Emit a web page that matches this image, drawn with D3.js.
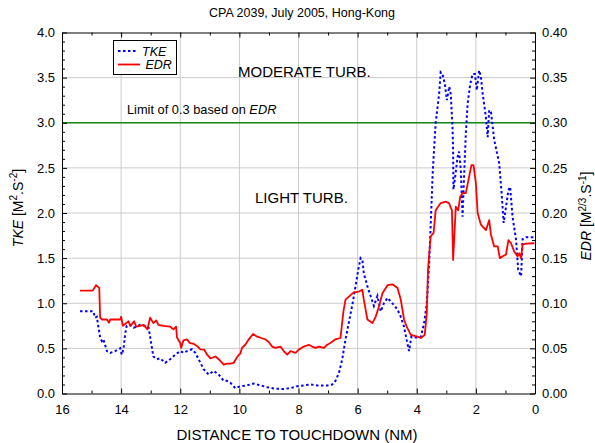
<!DOCTYPE html>
<html><head><meta charset="utf-8">
<script src="https://cdn.jsdelivr.net/npm/d3@7"></script>
<style>body{margin:0;background:#fff}svg{font-family:"Liberation Sans",Arial,sans-serif}</style>
</head><body>
<svg id="c" width="595" height="443"></svg>
<script>
const title = "CPA 2039, July 2005, Hong-Kong";
const xTicks = [16,14,12,10,8,6,4,2,0];
const yTicks = [0,0.5,1,1.5,2,2.5,3,3.5,4];
const y2Ticks = [0,0.05,0.1,0.15,0.2,0.25,0.3,0.35,0.4];
const limitEDR = 0.3;

const tkeDist = [15.39,14.94,14.88,14.82,14.77,14.71,14.65,14.60,14.48,14.37,
14.20,14.03,13.98,13.92,13.86,13.81,13.69,13.58,13.47,13.36,
13.19,13.07,13.02,12.91,12.79,12.68,12.51,12.34,12.17,12.00,
11.89,11.77,11.60,11.49,11.38,11.21,11.04,10.87,10.70,10.53,
10.42,10.31,10.14,9.97,9.74,9.52,9.29,9.06,8.84,8.50,
8.27,8.04,7.82,7.59,7.37,7.03,6.86,6.75,6.63,6.52,
6.41,6.29,6.18,6.07,5.98,5.90,5.84,5.79,5.67,5.56,
5.45,5.33,5.22,5.11,4.99,4.88,4.77,4.65,4.54,4.43,
4.32,4.26,4.18,4.03,3.86,3.75,3.66,3.58,3.53,3.46,
3.36,3.24,3.19,3.13,3.05,2.98,2.90,2.85,2.79,2.77,
2.76,2.70,2.62,2.57,2.51,2.45,2.40,2.34,2.28,2.19,
2.11,2.03,1.97,1.89,1.83,1.77,1.66,1.60,1.55,1.49,
1.38,1.21,1.13,1.06,0.98,0.90,0.84,0.76,0.64,0.57,
0.47,0.42,0.31,0.02];
const tkeVals = [0.91,0.91,0.84,0.85,0.74,0.62,0.58,0.60,0.47,0.45,
0.47,0.50,0.43,0.49,0.67,0.75,0.76,0.73,0.74,0.76,
0.75,0.73,0.63,0.41,0.38,0.39,0.34,0.38,0.43,0.47,
0.45,0.47,0.49,0.45,0.38,0.27,0.21,0.25,0.21,0.14,
0.14,0.12,0.06,0.08,0.09,0.11,0.09,0.07,0.055,0.05,
0.06,0.08,0.09,0.10,0.09,0.09,0.10,0.14,0.23,0.38,
0.60,0.80,0.98,1.19,1.37,1.50,1.48,1.33,1.19,1.08,
0.97,1.08,0.91,1.00,1.06,1.02,0.98,0.93,0.85,0.74,
0.56,0.47,0.63,0.62,0.63,0.78,1.00,1.44,1.85,2.45,
3.00,3.33,3.56,3.54,3.43,3.25,3.40,3.32,2.95,2.70,
2.26,2.40,2.62,2.68,2.48,1.96,2.40,2.88,3.21,3.43,
3.54,3.54,3.36,3.58,3.51,3.32,3.06,2.84,3.14,3.12,
2.81,2.55,2.22,1.89,2.07,2.25,2.29,1.96,1.70,1.37,
1.30,1.71,1.73,1.73];

const edrDist = [15.39,14.96,14.85,14.74,14.71,14.65,14.48,14.41,14.37,14.03,
14.00,13.94,13.81,13.75,13.69,13.56,13.49,13.36,13.24,13.11,
13.02,12.91,12.81,12.74,12.57,12.34,12.23,12.14,12.11,12.00,
11.97,11.89,11.77,11.68,11.55,11.41,11.32,11.19,11.09,10.98,
10.81,10.70,10.53,10.42,10.31,10.19,10.10,10.02,9.97,9.91,
9.80,9.68,9.54,9.40,9.26,9.12,9.01,8.89,8.78,8.61,
8.50,8.38,8.27,8.10,7.99,7.82,7.65,7.54,7.42,7.31,
7.14,7.03,6.92,6.75,6.58,6.48,6.41,6.24,6.13,5.96,
5.84,5.79,5.67,5.50,5.39,5.28,5.16,4.99,4.82,4.65,
4.54,4.43,4.34,4.20,3.98,3.86,3.73,3.66,3.62,3.53,
3.43,3.36,3.19,3.02,2.91,2.81,2.77,2.74,2.68,2.60,
2.53,2.45,2.34,2.23,2.15,2.08,2.00,1.94,1.83,1.66,
1.55,1.49,1.38,1.26,1.19,1.09,0.98,0.90,0.81,0.70,
0.59,0.53,0.47,0.42,0.31,0.02];
const edrVals = [0.114,0.114,0.120,0.117,0.084,0.082,0.082,0.0785,0.082,0.082,
0.085,0.075,0.0785,0.080,0.075,0.080,0.074,0.075,0.076,0.071,
0.084,0.078,0.081,0.076,0.075,0.074,0.071,0.074,0.062,0.056,
0.0505,0.059,0.060,0.056,0.055,0.052,0.049,0.0486,0.043,0.039,
0.041,0.038,0.032,0.033,0.033,0.034,0.039,0.043,0.044,0.0505,
0.054,0.060,0.066,0.063,0.0615,0.060,0.057,0.052,0.0505,0.052,
0.047,0.043,0.047,0.045,0.0486,0.052,0.054,0.052,0.0505,0.052,
0.0505,0.054,0.056,0.060,0.0615,0.091,0.104,0.109,0.112,0.113,
0.115,0.104,0.082,0.078,0.085,0.0965,0.111,0.120,0.121,0.117,
0.104,0.082,0.074,0.065,0.063,0.0615,0.065,0.089,0.137,0.174,
0.178,0.203,0.211,0.2125,0.211,0.203,0.148,0.1665,0.207,0.203,
0.218,0.222,0.222,0.240,0.253,0.253,0.233,0.200,0.187,0.181,
0.192,0.176,0.163,0.163,0.150,0.152,0.154,0.170,0.1665,0.157,
0.152,0.1555,0.150,0.165,0.166,0.1665];

const svg = d3.select("#c");
const L = 62, R = 535, T = 32.5, B = 393.5;
const x = d3.scaleLinear().domain([16,0]).range([L,R]);
const y = d3.scaleLinear().domain([0,4]).range([B,T]);
const y2 = d3.scaleLinear().domain([0,0.4]).range([B,T]);
const FF = '"Liberation Sans",Arial,sans-serif';

// grid
const grid = svg.append("g").attr("stroke","#cbcbcb").attr("stroke-width",1);
grid.selectAll(".gx").data(xTicks.filter(v=>v>0&&v<16)).join("line")
  .attr("x1",d=>x(d)).attr("x2",d=>x(d)).attr("y1",T).attr("y2",B);
grid.selectAll(".gy").data(yTicks.filter(v=>v>0&&v<4)).join("line")
  .attr("x1",L).attr("x2",R).attr("y1",d=>y(d)).attr("y2",d=>y(d));

// limit line
svg.append("line").attr("x1",L).attr("x2",R).attr("y1",y2(limitEDR)).attr("y2",y2(limitEDR))
  .attr("stroke","#14881a").attr("stroke-width",1.6);

svg.append("clipPath").attr("id","clip").append("rect").attr("x",L).attr("y",T).attr("width",R-L).attr("height",B-T);
const plot = svg.append("g").attr("clip-path","url(#clip)");

const tkeData = tkeDist.map((d,i)=>[d,tkeVals[i]]);
const edrData = edrDist.map((d,i)=>[d,edrVals[i]]);

plot.append("path").datum(tkeData)
  .attr("d", d3.line().x(d=>x(d[0])).y(d=>y(d[1])))
  .attr("fill","none").attr("stroke","#0000ff").attr("stroke-width",2).attr("stroke-dasharray","2.5,2.5");
plot.append("path").datum(edrData)
  .attr("d", d3.line().x(d=>x(d[0])).y(d=>y2(d[1])))
  .attr("fill","none").attr("stroke","#ff0000").attr("stroke-width",1.8).attr("stroke-linejoin","round");

// axes
function styleAxis(g){ g.attr("font-family",FF).attr("font-size",13); g.selectAll("line,path").attr("stroke","#000"); g.selectAll("text").attr("fill","#000"); }
svg.append("g").attr("transform",`translate(0,${B})`)
  .call(d3.axisBottom(x).tickValues(xTicks).tickFormat(d3.format("d")).tickSizeInner(-5).tickSizeOuter(0).tickPadding(11)).call(styleAxis);
svg.append("g").attr("transform",`translate(0,${B})`)
  .call(d3.axisBottom(x).tickValues(d3.range(1,16,2)).tickFormat("").tickSizeInner(-3).tickSizeOuter(0)).call(g=>g.select(".domain").remove()).call(styleAxis);
svg.append("g").attr("transform",`translate(0,${T})`)
  .call(d3.axisTop(x).tickValues(xTicks).tickFormat("").tickSizeInner(-5).tickSizeOuter(0)).call(styleAxis);
svg.append("g").attr("transform",`translate(0,${T})`)
  .call(d3.axisTop(x).tickValues(d3.range(1,16,2)).tickFormat("").tickSizeInner(-3).tickSizeOuter(0)).call(g=>g.select(".domain").remove()).call(styleAxis);

svg.append("g").attr("transform",`translate(${L},0)`)
  .call(d3.axisLeft(y).tickValues(yTicks).tickFormat(d3.format(".1f")).tickSizeInner(-5).tickSizeOuter(0).tickPadding(7)).call(styleAxis);
svg.append("g").attr("transform",`translate(${L},0)`)
  .call(d3.axisLeft(y).tickValues(d3.range(0,40).filter(i=>i%5!==0).map(i=>i/10)).tickFormat("").tickSizeInner(-3).tickSizeOuter(0)).call(g=>g.select(".domain").remove()).call(styleAxis);
svg.append("g").attr("transform",`translate(${R},0)`)
  .call(d3.axisRight(y2).tickValues(y2Ticks).tickFormat(d3.format(".2f")).tickSizeInner(-5).tickSizeOuter(0).tickPadding(7)).call(styleAxis);
svg.append("g").attr("transform",`translate(${R},0)`)
  .call(d3.axisRight(y2).tickValues(d3.range(0,40).filter(i=>i%5!==0).map(i=>i/100)).tickFormat("").tickSizeInner(-3).tickSizeOuter(0)).call(g=>g.select(".domain").remove()).call(styleAxis);

// title
svg.append("text").attr("x",302).attr("y",17).attr("text-anchor","middle").attr("font-size",12.5).text(title);
// x label
svg.append("text").attr("x",297).attr("y",439.5).attr("text-anchor","middle").attr("font-size",15).text("DISTANCE TO TOUCHDOWN (NM)");

// left y label
const yl = svg.append("text").attr("transform","translate(22.5,208) rotate(-90)").attr("text-anchor","middle").attr("font-size",14);
yl.append("tspan").attr("font-style","italic").text("TKE");
yl.append("tspan").text(" [M");
yl.append("tspan").attr("font-size",10).attr("dy",-5.5).text("2");
yl.append("tspan").attr("dy",5.5).text(".S");
yl.append("tspan").attr("font-size",10).attr("dy",-5.5).text("-2");
yl.append("tspan").attr("dy",5.5).text("]");

// right y label
const yr = svg.append("text").attr("transform","translate(591,216) rotate(-90)").attr("text-anchor","middle").attr("font-size",14);
yr.append("tspan").attr("font-style","italic").text("EDR");
yr.append("tspan").text(" [M");
yr.append("tspan").attr("font-size",10).attr("dy",-5.5).text("2/3");
yr.append("tspan").attr("dy",5.5).text(".S");
yr.append("tspan").attr("font-size",10).attr("dy",-5.5).text("-1");
yr.append("tspan").attr("dy",5.5).text("]");

// annotations
svg.append("text").attr("x",238).attr("y",77).attr("font-size",15).text("MODERATE TURB.");
svg.append("text").attr("x",255).attr("y",203).attr("font-size",15).text("LIGHT TURB.");
const lim = svg.append("text").attr("x",127).attr("y",114).attr("font-size",12.8);
lim.append("tspan").text("Limit of 0.3 based on ");
lim.append("tspan").attr("font-style","italic").text("EDR");

// legend
const lg = svg.append("g");
lg.append("rect").attr("x",113.5).attr("y",40.5).attr("width",63).attr("height",34).attr("fill","#fff").attr("stroke","#000").attr("stroke-width",1);
lg.append("line").attr("x1",118).attr("x2",137).attr("y1",51).attr("y2",51).attr("stroke","#0000ff").attr("stroke-width",2).attr("stroke-dasharray","2.5,2.5");
lg.append("line").attr("x1",118).attr("x2",140).attr("y1",64.5).attr("y2",64.5).attr("stroke","#ff0000").attr("stroke-width",1.8);
lg.append("text").attr("x",142).attr("y",55.5).attr("font-size",12.5).attr("font-style","italic").text("TKE");
lg.append("text").attr("x",145.5).attr("y",69).attr("font-size",12.5).attr("font-style","italic").text("EDR");
</script>
</body></html>
